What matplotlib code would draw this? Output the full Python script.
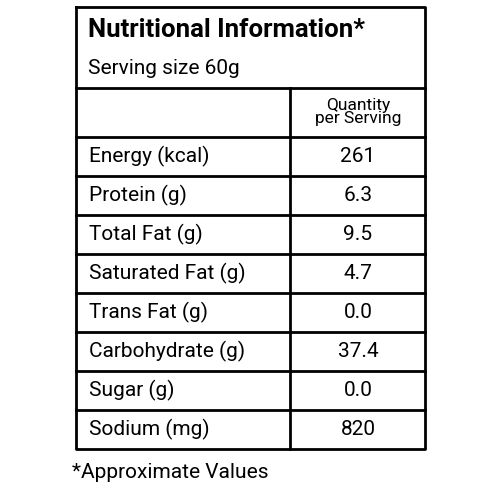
import matplotlib
matplotlib.use("Agg")
import matplotlib.pyplot as plt

nutrients = ["Energy (kcal)", "Protein (g)", "Total Fat (g)", "Saturated Fat (g)",
             "Trans Fat (g)", "Carbohydrate (g)", "Sugar (g)", "Sodium (mg)"]
values = ["261", "6.3", "9.5", "4.7", "0.0", "37.4", "0.0", "820"]

plt.rcParams['font.family'] = ['DejaVu Sans Condensed', 'Roboto', 'DejaVu Sans']

fig = plt.figure(figsize=(5, 5), dpi=100)
ax = fig.add_axes([0, 0, 1, 1])
ax.set_xlim(0, 500); ax.set_ylim(500, 0); ax.axis("off")

left, right, mid = 76, 425, 290
top, head_bot, qty_bot, row_h = 7, 88, 137, 39
bottom = qty_bot + row_h * len(nutrients)

lw = 2
ax.plot([left, right, right, left, left], [top, top, bottom, bottom, top], color="black", lw=lw)
ax.plot([left, right], [head_bot, head_bot], color="black", lw=lw)
ax.plot([left, right], [qty_bot, qty_bot], color="black", lw=lw)
ax.plot([mid, mid], [head_bot, bottom], color="black", lw=lw)
for i in range(1, len(nutrients)):
    y = qty_bot + row_h * i
    ax.plot([left, right], [y, y], color="black", lw=lw)

ax.text(88, 30, "Nutritional Information*", fontsize=18.5, fontweight="bold", va="center")
ax.text(88, 68, "Serving size 60g", fontsize=15, va="center")
ax.text(358, 112, "Quantity\nper Serving", fontsize=12.5, va="center", ha="center", linespacing=0.9)

for i, (n, v) in enumerate(zip(nutrients, values)):
    y = qty_bot + row_h * i + row_h / 2
    ax.text(89, y, n, fontsize=15, va="center")
    ax.text(358, y, v, fontsize=15, va="center", ha="center")

ax.text(72, 473, "*Approximate Values", fontsize=15, va="center")

fig.savefig("out.png", dpi=100)
